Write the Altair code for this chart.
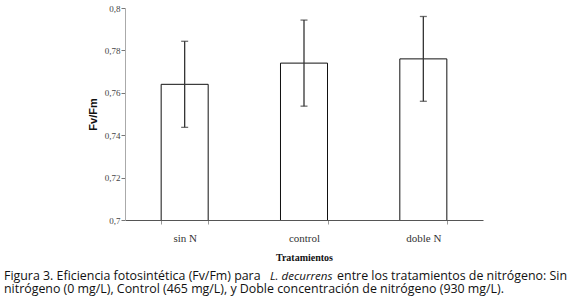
import altair as alt
import pandas as pd

# ---- data ----
categories = ["sin N", "control", "doble N"]
means = [0.764, 0.774, 0.776]
errors = [0.0203, 0.0203, 0.020]

y_title = "Fv/Fm"
x_title = "Tratamientos"
cap1a = "Figura 3. Eficiencia fotosintética (Fv/Fm) para"
cap1b = "L. decurrens"
cap1c = "entre los tratamientos de nitrógeno: Sin"
cap2 = "nitrógeno (0 mg/L), Control (465 mg/L), y Doble concentración de nitrógeno (930 mg/L)."

df = pd.DataFrame({
    "cat": categories,
    "mean": means,
    "lo": [m - e for m, e in zip(means, errors)],
    "hi": [m + e for m, e in zip(means, errors)],
})

W, H = 358, 212
PADL, PADT = 125, 8

x_enc = alt.X(
    "cat:N", sort=categories, title=x_title,
    scale=alt.Scale(paddingInner=0.606, paddingOuter=0.303),
    axis=alt.Axis(
        labelAngle=0, labelFont="Liberation Serif", labelFontSize=11, labelColor="#333",
        labelPadding=8, tickBand="extent", tickSize=4, tickColor="#999",
        domainColor="#555", titleFont="Liberation Serif", titleFontSize=10,
        titleFontWeight="bold", titleColor="#111", titlePadding=9,
    ),
)
y_scale = alt.Scale(domain=[0.7, 0.8], nice=False, zero=False)

bars = alt.Chart(df).mark_bar(fill="white", stroke="#111", strokeWidth=1, clip=True).encode(
    x=x_enc,
    y=alt.Y(
        "mean:Q", scale=y_scale, title=y_title,
        axis=alt.Axis(
            values=[0.7, 0.72, 0.74, 0.76, 0.78, 0.8], grid=False,
            labelExpr="replace(format(datum.value, '.2~f'), '.', ',')",
            labelFont="Liberation Serif", labelFontSize=9, labelColor="#444",
            labelPadding=1, tickSize=4, tickColor="#777", domainColor="#aaa",
            titleFont="Liberation Sans", titleFontSize=11, titleFontWeight="bold",
            titleColor="#111", titlePadding=6,
        ),
    ),
    y2=alt.value(H),
)

rules = alt.Chart(df).mark_rule(color="#333", strokeWidth=1.3).encode(
    x=alt.X("cat:N", sort=categories),
    y=alt.Y("lo:Q", scale=y_scale),
    y2="hi:Q",
)
caps_hi = alt.Chart(df).mark_tick(color="#333", size=7, thickness=1.3, orient="horizontal").encode(
    x=alt.X("cat:N", sort=categories),
    y=alt.Y("hi:Q", scale=y_scale),
)
caps_lo = alt.Chart(df).mark_tick(color="#333", size=7, thickness=1.3, orient="horizontal").encode(
    x=alt.X("cat:N", sort=categories),
    y=alt.Y("lo:Q", scale=y_scale),
)

cap_df = pd.DataFrame({"a": [0]})
CAPFONT = "Open Sans"
CAPSIZE = 12.4
def cap_text(txt, x, y, italic=False, align="left", size=CAPSIZE):
    return alt.Chart(cap_df).mark_text(
        text=txt, font=CAPFONT, fontSize=size, align=align, baseline="alphabetic",
        fontStyle="italic" if italic else "normal", color="#111",
    ).encode(x=alt.value(x - PADL), y=alt.value(y - PADT))

captions = (
    cap_text(cap1a, 4, 280)
    + cap_text(cap1b, 270, 280, italic=True, size=11.6)
    + cap_text(cap1c, 567, 280, align="right")
    + cap_text(cap2, 4, 293)
)

chart = alt.layer(bars, rules, caps_hi, caps_lo, captions).properties(
    width=W, height=H,
    autosize=alt.AutoSizeParams(type="none"),
    padding={"left": PADL, "top": PADT, "right": 573 - PADL - W, "bottom": 302 - PADT - H},
    background="white",
).configure_view(stroke=None)

chart.save("out.html", embed_options={"renderer": "svg", "actions": False})
